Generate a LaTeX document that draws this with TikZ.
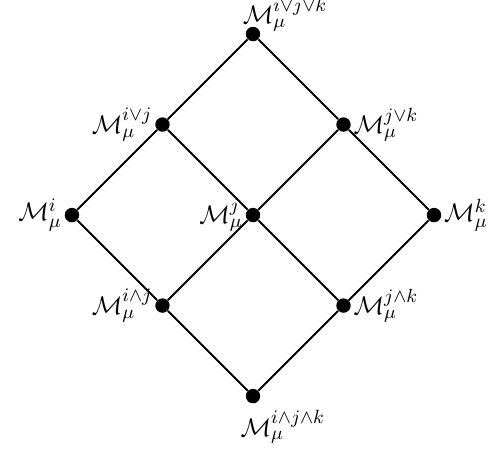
\documentclass[tikz,border=0pt]{standalone}
\usepackage{amsmath,amssymb}
\usetikzlibrary{positioning}
\tikzset{
  dot/.style={circle, fill=black, inner sep=0pt, minimum size=6.8pt},
  edge/.style={line width=0.9pt, draw=black},
  lbl/.style={inner sep=1pt, font=\fontsize{12.6pt}{15pt}\selectfont},
}

\begin{document}
\begin{tikzpicture}[x=1.5cm,y=1.5cm]
\useasboundingbox (-2.795,-2.586) rectangle (2.729,2.376);
% lattice nodes
\node[dot, label={[lbl, anchor=south west, xshift=-6pt, yshift=-3.5pt]north:$\mathcal{M}_\mu^{i\vee j\vee k}$}] (ijk) at (0,2) {};
\node[dot, label={[lbl]left:$\mathcal{M}_\mu^{i\vee j}$}] (ij) at (-1,1) {};
\node[dot, label={[lbl]right:$\mathcal{M}_\mu^{j\vee k}$}] (jk) at (1,1) {};
\node[dot, label={[lbl]left:$\mathcal{M}_\mu^{i}$}] (i) at (-2,0) {};
\node[dot, label={[lbl]left:$\mathcal{M}_\mu^{j}$}] (j) at (0,0) {};
\node[dot, label={[lbl]right:$\mathcal{M}_\mu^{k}$}] (k) at (2,0) {};
\node[dot, label={[lbl]left:$\mathcal{M}_\mu^{i\wedge j}$}] (iaj) at (-1,-1) {};
\node[dot, label={[lbl]right:$\mathcal{M}_\mu^{j\wedge k}$}] (jak) at (1,-1) {};
\node[dot, label={[lbl, anchor=north west, xshift=-7pt, yshift=-2pt]south:$\mathcal{M}_\mu^{i\wedge j\wedge k}$}] (iajak) at (0,-2) {};
% edges
\draw[edge] (ijk) -- (ij) -- (i) -- (iaj) -- (iajak);
\draw[edge] (ijk) -- (jk) -- (k) -- (jak) -- (iajak);
\draw[edge] (ij) -- (j) -- (jak);
\draw[edge] (jk) -- (j) -- (iaj);
\end{tikzpicture}
\end{document}
